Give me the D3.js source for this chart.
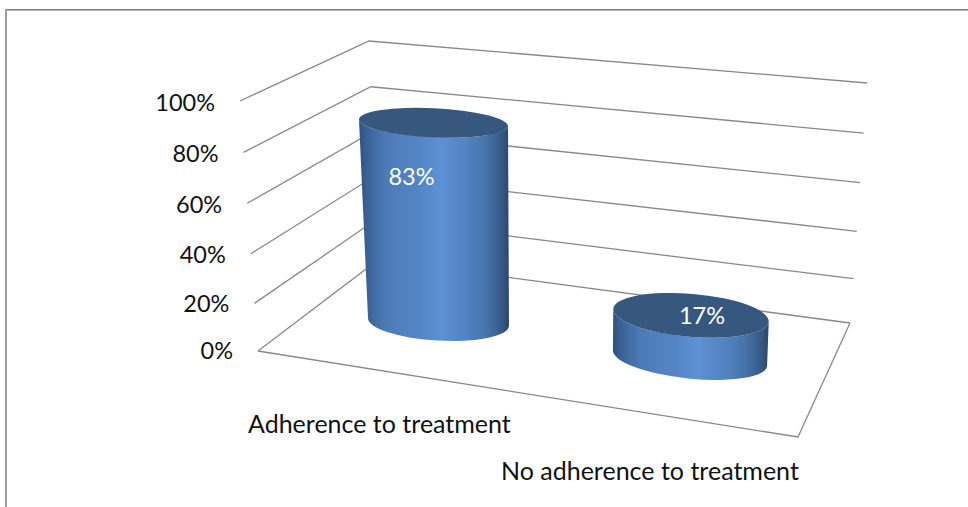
<!DOCTYPE html>
<html>
<head>
<meta charset="utf-8">
<script src="https://cdn.jsdelivr.net/npm/d3@7/dist/d3.min.js"></script>
<style>
  html, body { margin: 0; padding: 0; background: #fff; }
  svg { display: block; }
  text { font-family: Lato, "Open Sans", sans-serif; }
</style>
</head>
<body>
<div id="chart"></div>
<script>
// Chart data
const categories = ["Adherence to treatment", "No adherence to treatment"];
const shares = [83, 17];
const shareTicks = [0, 20, 40, 60, 80, 100];
const tickSuffix = "%";

const width = 968, height = 507;
const svg = d3.select("#chart").append("svg")
  .attr("width", width).attr("height", height);

// Outer chart border: only the top and left edges are visible
const border = svg.append("g");
[[5, 9.5, width, 9.5, "#808080"], [5, 10.5, width, 10.5, "#b4b4b4"],
 [5.5, 9, 5.5, height, "#a0a0a0"], [6.5, 9, 6.5, height, "#9a9a9a"]].forEach(l => {
  border.append("line").attr("x1", l[0]).attr("y1", l[1]).attr("x2", l[2]).attr("y2", l[3])
    .attr("stroke", l[4]).attr("stroke-width", 1);
});

// Perspective wall: three vertical edges, each with its own value scale
const edgeY = (y0, y1, e) => d3.scalePow().exponent(e).domain([0, 100]).range([y0, y1]);
const edgeX = (x0, x1) => d3.scaleLinear().domain([0, 100]).range([x0, x1]);
const leftEdge   = { x: edgeX(258, 240), y: edgeY(351, 101, 1.03) };
const cornerEdge = { x: edgeX(378, 369), y: edgeY(260, 41, 1.05) };
const rightEdge  = { x: edgeX(850, 867), y: edgeY(323, 83, 1.05) };
const at = (edge, v) => [edge.x(v), edge.y(v)];
const tickBaseline = edgeY(359, 111, 1.04);

const gridColor = "#888888";
const line = d3.line();
const grid = svg.append("g").attr("fill", "none")
  .attr("stroke", gridColor).attr("stroke-width", 1.3);

grid.selectAll("path.grid").data(shareTicks).join("path")
  .attr("class", "grid")
  .attr("d", v => line([at(leftEdge, v), at(cornerEdge, v), at(rightEdge, v)]));

// Floor: the front corner closes the plane under the columns
const floorFront = [798, 437];
grid.append("path")
  .attr("d", line([at(leftEdge, 0), floorFront, at(rightEdge, 0)]));

// Value axis labels sit just left of each wall line
svg.append("g").selectAll("text").data(shareTicks).join("text")
  .attr("x", v => leftEdge.x(v) - 25)
  .attr("y", v => tickBaseline(v))
  .attr("text-anchor", "end")
  .attr("font-size", 23.5)
  .attr("fill", "#111")
  .text(v => v + tickSuffix);

// Column geometry depends on how far forward the category stands on the floor
const depth = d3.scalePoint().domain(categories).range([0, 1]);
const byDepth = (a, b) => d3.scaleLinear().domain([0, 1]).range([a, b]);
const geo = {
  baseX: byDepth(438.5, 690), baseY: byDepth(322, 358),
  baseRx: byDepth(70.6, 77.5), baseRy: byDepth(18.6, 20.5), baseRot: byDepth(3.2, 5.9),
  topDx: byDepth(-5, 1), unit: byDepth(2.4, 2.51),
  topRx: byDepth(74.6, 78), topRy: byDepth(14.6, 21.5), topRot: byDepth(2.7, 4.8),
  labelDx: byDepth(-22, 11), labelDy: byDepth(62, 9)
};

// Cylinder side shading runs left to right across the body
const defs = svg.append("defs");
const shade = defs.append("linearGradient").attr("id", "columnSide")
  .attr("x1", 0).attr("x2", 1).attr("y1", 0).attr("y2", 0);
[[0, "#2f5180"], [0.06, "#3c6398"], [0.18, "#4c7bb7"], [0.38, "#5385c4"],
 [0.55, "#5d90d4"], [0.72, "#5283c2"], [0.86, "#4571a6"], [0.95, "#365a87"], [1, "#2c4768"]]
  .forEach(s => shade.append("stop").attr("offset", s[0]).attr("stop-color", s[1]));

const ends = (e) => {
  const r = e.rot * Math.PI / 180;
  return {
    left:  [e.cx - e.rx * Math.cos(r), e.cy - e.rx * Math.sin(r)],
    right: [e.cx + e.rx * Math.cos(r), e.cy + e.rx * Math.sin(r)]
  };
};

const columns = svg.append("g").selectAll("g")
  .data(categories.map((c, i) => ({ category: c, value: shares[i] })))
  .join("g");

columns.each(function (d) {
  const t = depth(d.category);
  const base = { cx: geo.baseX(t), cy: geo.baseY(t), rx: geo.baseRx(t), ry: geo.baseRy(t), rot: geo.baseRot(t) };
  const top = {
    cx: base.cx + geo.topDx(t), cy: base.cy - d.value * geo.unit(t),
    rx: geo.topRx(t), ry: geo.topRy(t), rot: geo.topRot(t)
  };
  const b = ends(base), a = ends(top);
  const g = d3.select(this);

  g.append("path")
    .attr("fill", "url(#columnSide)")
    .attr("d", `M${a.left} L${b.left} A${base.rx} ${base.ry} ${base.rot} 0 0 ${b.right} L${a.right} ` +
               `A${top.rx} ${top.ry} ${top.rot} 0 1 ${a.left} Z`);

  g.append("ellipse")
    .attr("cx", top.cx).attr("cy", top.cy)
    .attr("rx", top.rx).attr("ry", top.ry)
    .attr("transform", `rotate(${top.rot} ${top.cx} ${top.cy})`)
    .attr("fill", "#36587f");

  g.append("text")
    .attr("x", top.cx + geo.labelDx(t))
    .attr("y", top.cy + geo.labelDy(t))
    .attr("text-anchor", "middle")
    .attr("font-size", 23.5)
    .attr("fill", "#fff")
    .text(d.value + tickSuffix);
});

// Category labels below the floor
const labelX = d3.scalePoint().domain(categories).range([248, 501]);
const labelY = d3.scalePoint().domain(categories).range([433, 480]);
svg.append("g").selectAll("text").data(categories).join("text")
  .attr("x", c => labelX(c))
  .attr("y", c => labelY(c))
  .attr("font-size", 25)
  .attr("fill", "#111")
  .text(c => c);
</script>
</body>
</html>
